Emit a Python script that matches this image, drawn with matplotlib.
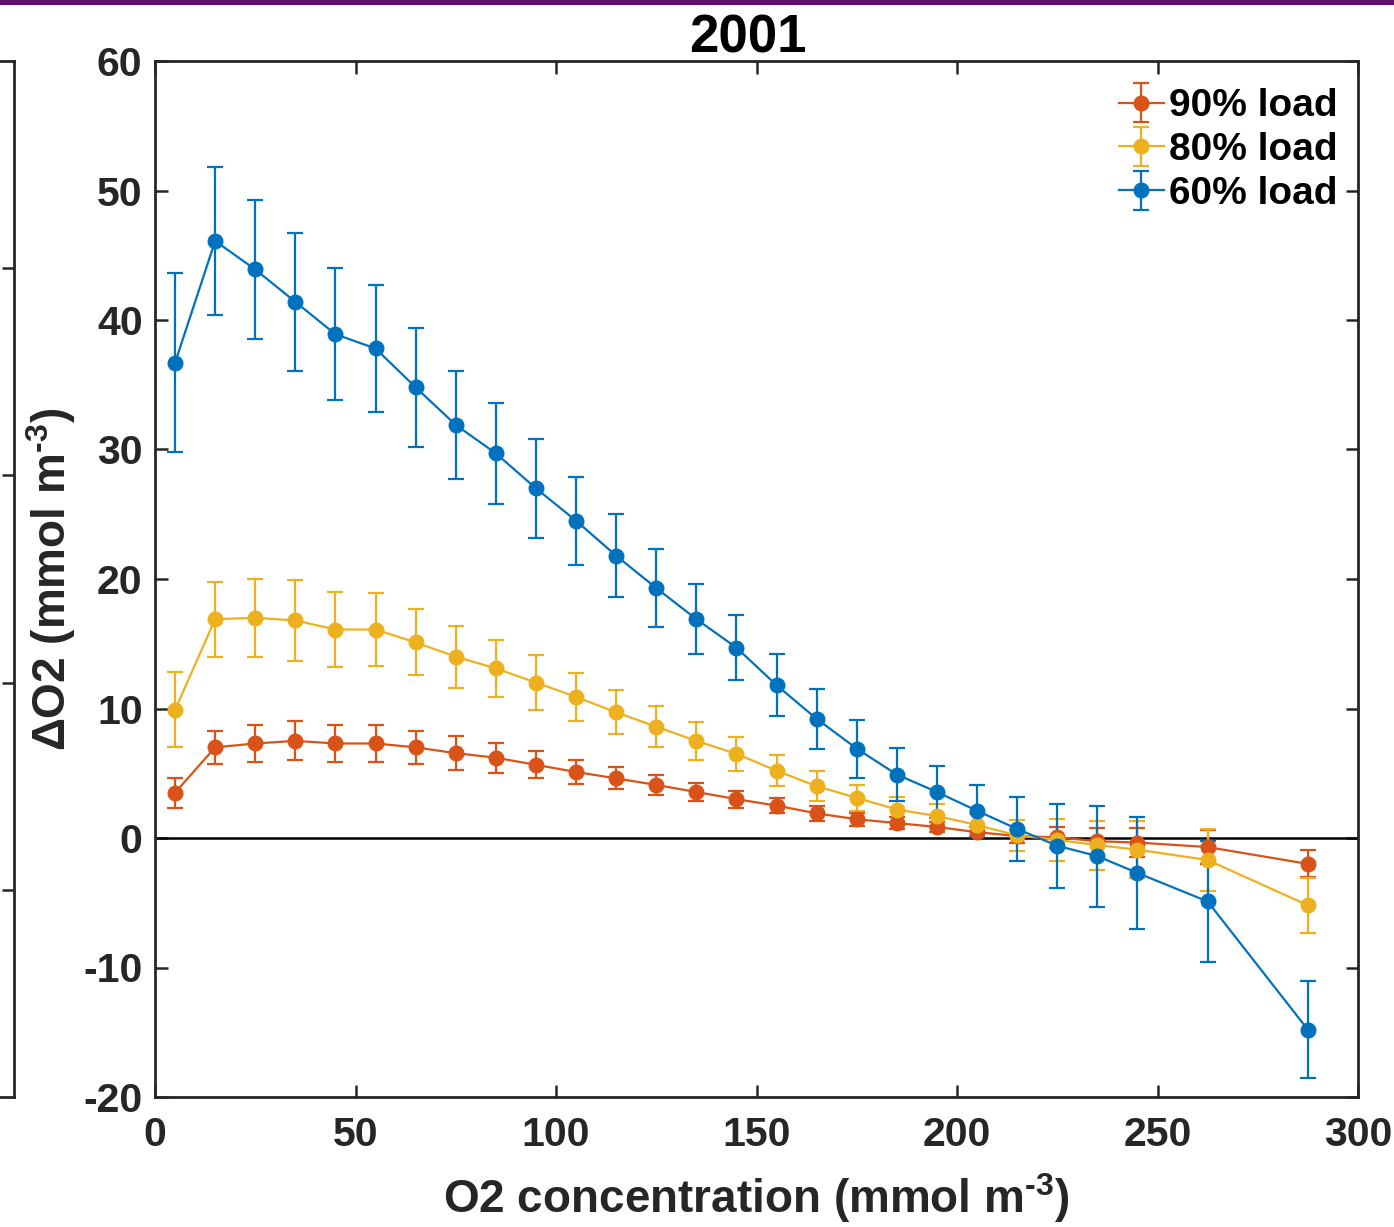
import matplotlib
matplotlib.use("Agg")
import matplotlib.pyplot as plt
from matplotlib.patches import Rectangle

plt.rcParams['font.family'] = ['Liberation Sans', 'DejaVu Sans']
plt.rcParams['font.weight'] = 'bold'
plt.rcParams['axes.unicode_minus'] = False
plt.rcParams['mathtext.fontset'] = 'custom'
plt.rcParams['mathtext.rm'] = 'Liberation Sans:bold'
plt.rcParams['mathtext.bf'] = 'Liberation Sans:bold'
plt.rcParams['mathtext.it'] = 'Liberation Sans:bold'
plt.rcParams['mathtext.default'] = 'rm'

# ---- data ----
o2 = [5, 15, 25, 35, 45, 55, 65, 75, 85, 95, 105, 115, 125, 135, 145, 155,
      165, 175, 185, 195, 205, 215, 225, 235, 245, 262.5, 287.5]

load90 = [3.5, 7.0, 7.3, 7.5, 7.3, 7.3, 7.0, 6.55, 6.2, 5.65, 5.1, 4.6, 4.1,
          3.55, 3.0, 2.5, 1.9, 1.45, 1.15, 0.85, 0.45, 0.15, 0.05, -0.25,
          -0.35, -0.7, -2.0]
err90 = [1.15, 1.3, 1.45, 1.5, 1.45, 1.4, 1.3, 1.3, 1.15, 1.05, 0.9, 0.85,
         0.75, 0.7, 0.65, 0.6, 0.55, 0.5, 0.45, 0.4, 0.4, 0.5, 0.8, 1.0,
         1.1, 1.3, 1.05]

load80 = [9.9, 16.9, 17.0, 16.8, 16.1, 16.1, 15.1, 14.0, 13.1, 12.0, 10.9,
          9.7, 8.6, 7.5, 6.5, 5.2, 4.0, 3.1, 2.2, 1.7, 1.0, 0.2, -0.15,
          -0.55, -0.9, -1.7, -5.2]
err80 = [2.9, 2.9, 3.0, 3.1, 2.9, 2.8, 2.55, 2.4, 2.2, 2.1, 1.85, 1.7, 1.6,
         1.45, 1.3, 1.2, 1.15, 1.0, 0.95, 0.9, 0.85, 1.2, 1.65, 1.9, 2.2,
         2.4, 2.1]

load60 = [36.7, 46.1, 43.9, 41.4, 38.9, 37.8, 34.8, 31.9, 29.7, 27.0, 24.5,
          21.8, 19.3, 16.9, 14.7, 11.8, 9.2, 6.9, 4.9, 3.55, 2.1, 0.7, -0.6,
          -1.4, -2.7, -4.9, -14.8]
err60 = [6.9, 5.7, 5.4, 5.3, 5.1, 4.9, 4.6, 4.2, 3.9, 3.8, 3.4, 3.2, 3.0,
         2.7, 2.5, 2.4, 2.3, 2.25, 2.05, 2.0, 2.0, 2.45, 3.25, 3.9, 4.3,
         4.7, 3.75]

labels = ['90% load', '80% load', '60% load']
colors = ['#D95319', '#EDB120', '#0072BD']
xticks = [0, 50, 100, 150, 200, 250, 300]
yticks = [-20, -10, 0, 10, 20, 30, 40, 50, 60]

# ---- figure ----
W, H = 1394, 1227
fig = plt.figure(figsize=(W / 100, H / 100), dpi=100)

left, right, top, bottom = 155, 1358, 61, 1097
ax = fig.add_axes([left / W, 1 - bottom / H, (right - left) / W, (bottom - top) / H])

axcol = '#262626'
for (y, e, c, lab) in zip([load90, load80, load60], [err90, err80, err60], colors, labels):
    ax.errorbar(o2, y, yerr=e, color=c, marker='o', markersize=10.5, linewidth=1.6,
                elinewidth=1.6, capsize=5.5, capthick=1.6, label=lab, zorder=3)

ax.axhline(0, color='black', linewidth=1.8, zorder=2)

ax.set_xlim(0, 300)
ax.set_ylim(-20, 60)
ax.set_xticks(xticks)
ax.set_yticks(yticks)
ax.tick_params(direction='in', length=9, width=1.8, top=True, right=True,
               labelsize=29.5, colors=axcol)
ax.tick_params(axis='x', pad=14)
ax.tick_params(axis='y', pad=9)
for lab in ax.get_xticklabels() + ax.get_yticklabels():
    lab.set_fontweight('bold')
for s in ax.spines.values():
    s.set_linewidth(2.0)
    s.set_color(axcol)

ax.set_title('2001', fontsize=38, fontweight='bold', pad=6, color='black', x=0.493)
ax.set_xlabel(r'O2 concentration (mmol m$^{\text{-3}}$)', fontsize=33, fontweight='bold',
              color=axcol, labelpad=12)
ax.set_ylabel(r'$\Delta$O2 (mmol m$^{\text{-3}}$)', fontsize=33, fontweight='bold',
              color=axcol, labelpad=4)

leg = ax.legend(loc='upper right', bbox_to_anchor=(1.006, 1.0), frameon=False,
                handlelength=1.15, handletextpad=0.15, labelspacing=0.2,
                borderaxespad=0.15, borderpad=0.55,
                prop={'weight': 'bold', 'size': 28})

# partial neighbouring axes on the left edge
ax0 = fig.add_axes([-0.05, 1 - bottom / H, 0.05 + 14 / W, (bottom - top) / H])
ax0.set_xlim(0, 1)
ax0.set_ylim(0, 5)
ax0.set_yticks([1, 2, 3, 4])
ax0.set_xticks([])
ax0.yaxis.tick_right()
ax0.tick_params(axis='y', direction='in', length=9, width=1.8, labelright=False,
                colors=axcol)
ax0.spines['left'].set_visible(False)
for s in ['right', 'top', 'bottom']:
    ax0.spines[s].set_linewidth(2.0)
    ax0.spines[s].set_color(axcol)

# purple band at top
fig.add_artist(Rectangle((0, 1 - 5 / H), 1, 5 / H, transform=fig.transFigure,
                         facecolor='#620E6C', edgecolor='none'))

fig.savefig('out.png', dpi=100)
